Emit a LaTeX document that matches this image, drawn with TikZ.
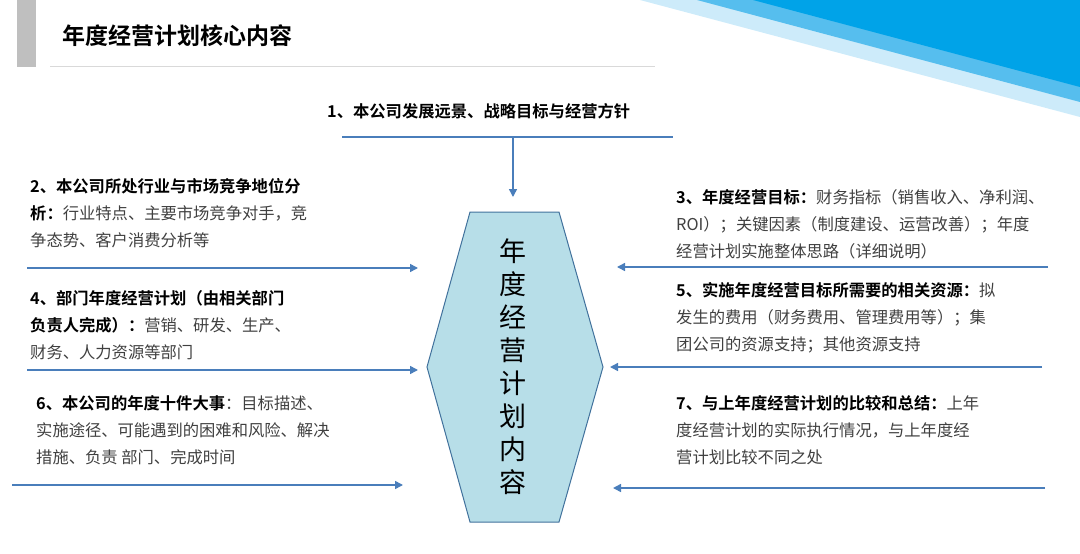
\documentclass[tikz,border=0pt]{standalone}
\usepackage{fontspec}
\setmainfont{Noto Sans CJK SC}[BoldFont={Noto Sans CJK SC Bold}]
\usetikzlibrary{arrows.meta, positioning}
\definecolor{arrowblue}{HTML}{4A7EBB}
\definecolor{hexfill}{HTML}{B7DEE8}
\definecolor{hexline}{HTML}{41719C}
\definecolor{bodygrey}{HTML}{404040}
\definecolor{swoopdark}{HTML}{00A3E8}
\definecolor{swoopmid}{HTML}{56BEEE}
\definecolor{swooplight}{HTML}{CDEBFA}
\tikzset{
	feed/.style={draw=arrowblue, line width=1.5pt, -{Triangle[length=8pt,width=8pt]}},
	item/.style={anchor=base west, align=left, inner sep=0pt, text=bodygrey, font=\fontsize{16.3}{27}\selectfont}
}
\newcommand{\hd}[1]{{\color{black}\bfseries #1}}

\begin{document}
\begin{tikzpicture}[x=1pt, y=-1pt]
			\useasboundingbox (0,0) rectangle (1080,554);
			% header
			\fill[swooplight] (640,0) -- (1080,0) -- (1080,117) -- cycle;
			\fill[swoopmid] (697,0) -- (1080,0) -- (1080,102) -- cycle;
			\fill[swoopdark] (753,0) -- (1080,0) -- (1080,87) -- cycle;
			\fill[black!25] (17,0) rectangle (36,67);
			\draw[black!15, line width=1pt] (50,66) -- (655,66);
			\node[anchor=base west, inner sep=0pt, font=\fontsize{23}{23}\selectfont\bfseries] (title) at (62,44) {年度经营计划核心内容};
			
			% centre
			\draw[hexline, fill=hexfill, line width=1pt] (470,212) -- (559,212) -- (603,367) -- (559,522) -- (470,522) -- (427,367) -- cycle;
			\node[align=center, inner sep=0pt, font=\fontsize{27}{33}\selectfont] (core) at (513,367) {年\\度\\经\\营\\计\\划\\内\\容};
			
			% items (base = last line)
			\node[item, text=black] (t1) at (327,117) {\hd{1、本公司发展远景、战略目标与经营方针}};
			\node[item] (t2) at (30,246) {\hd{2、本公司所处行业与市场竞争地位分}\\\hd{析：}行业特点、主要市场竞争对手，竞\\争态势、客户消费分析等};
			\node[item] (t4) at (30,358) {\hd{4、部门年度经营计划（由相关部门}\\\hd{负责人完成）：}营销、研发、生产、\\财务、人力资源等部门};
			\node[item] (t6) at (36,463) {\hd{6、本公司的年度十件大事}：目标描述、\\实施途径、可能遇到的困难和风险、解决\\措施、负责 部门、完成时间};
			\node[item] (t3) at (676,257) {\hd{3、年度经营目标：}财务指标（销售收入、净利润、\\ROI）；关键因素（制度建设、运营改善）；年度\\经营计划实施整体思路（详细说明）};
			\node[item] (t5) at (676,350) {\hd{5、实施年度经营目标所需要的相关资源：}拟\\发生的费用（财务费用、管理费用等）；集\\团公司的资源支持；其他资源支持};
			\node[item] (t7) at (676,463) {\hd{7、与上年度经营计划的比较和总结：}上年\\度经营计划的实际执行情况，与上年度经\\营计划比较不同之处};
			
			% connectors
			\coordinate (barL) at (342,137);
			\coordinate (barR) at (673,137);
			\coordinate (barM) at (513,137);
			\coordinate (topin) at (513,197);
			\coordinate (l2s) at (27,268);  \coordinate (l2e) at (418,268);
			\coordinate (l4s) at (27,370);  \coordinate (l4e) at (418,370);
			\coordinate (l6s) at (12,485);  \coordinate (l6e) at (403,485);
			\coordinate (r3s) at (1048,267); \coordinate (r3e) at (617,267);
			\coordinate (r5s) at (1042,367); \coordinate (r5e) at (610,367);
			\coordinate (r7s) at (1045,488); \coordinate (r7e) at (613,488);
			
			\draw[arrowblue, line width=1.5pt] (barL) -- (barR);
			\draw[feed] (barM) -- (topin);
			\draw[feed] (l2s) -- (l2e);
			\draw[feed] (l4s) -- (l4e);
			\draw[feed] (l6s) -- (l6e);
			\draw[feed] (r3s) -- (r3e);
			\draw[feed] (r5s) -- (r5e);
			\draw[feed] (r7s) -- (r7e);
		\end{tikzpicture}
\end{document}
